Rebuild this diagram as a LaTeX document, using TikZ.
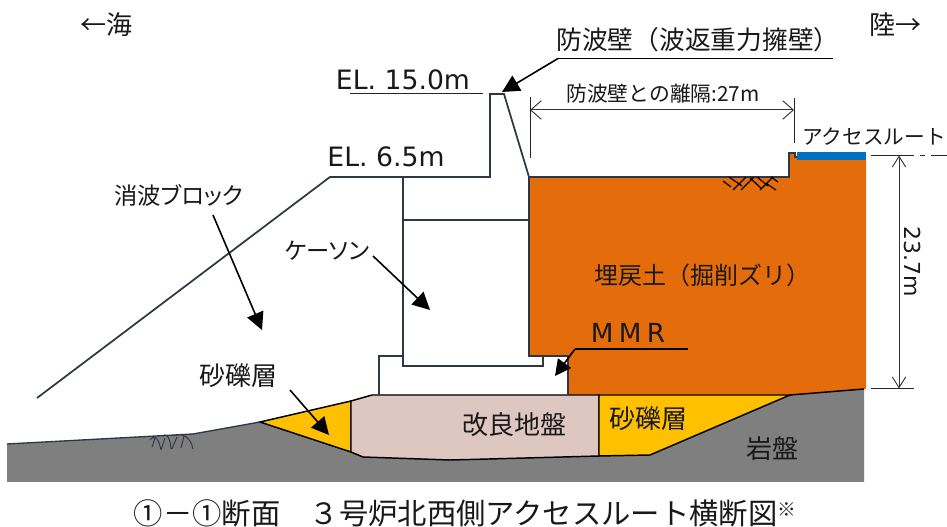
\documentclass[tikz,border=0pt]{standalone}
\usepackage{fontspec}
\usetikzlibrary{arrows.meta}
\setmainfont{DejaVu Sans}
\newfontfamily\jp{Noto Sans CJK JP}
\newfontfamily\jpp[RawFeature=+palt]{Noto Sans CJK JP}
\definecolor{wall}{HTML}{2F3744}
\definecolor{orangefill}{HTML}{E46C0A}
\definecolor{gravel}{HTML}{FFC000}
\definecolor{improved}{HTML}{DFC7C1}
\definecolor{rock}{HTML}{7F7F7F}
\definecolor{road}{HTML}{0070C0}
\tikzset{
  px/.style={x=0.75pt,y=-0.75pt},
  wallline/.style={draw=wall,line width=1.3pt,line join=miter},
  blackline/.style={draw=black,line width=1.1pt},
  thinline/.style={draw=black!85,line width=0.75pt},
  leader/.style={draw=black,line width=1.2pt,-{Triangle[length=13pt,width=13pt]}},
  dimline/.style={draw=black!80,line width=0.75pt,{Straight Barb[length=8pt,width=14pt,line width=0.7pt]}-{Straight Barb[length=8pt,width=14pt,line width=0.7pt]}},
  lab/.style={inner sep=0pt,anchor=center,font=\jpp\fontsize{19.5}{20}\selectfont,text=black!90},
  elab/.style={inner sep=0pt,anchor=center,font=\fontsize{20}{20}\selectfont,text=black!90},
}
\begin{document}
\begin{tikzpicture}[px]
\useasboundingbox (0,0) rectangle (947,527);
\fill[white] (0,0) rectangle (947,527);
% bedrock
\fill[rock] (7,444) -- (193,434) -- (260,422) -- (351,401) -- (372,395) -- (790,395) -- (864,389) -- (864,482) -- (7,482) -- cycle;
% fill
\fill[orangefill] (529,177) -- (789,177) -- (789,153) -- (795,153) -- (795,158) -- (866,158) -- (866,389) -- (790,395) -- (568,395) -- (568,356) -- (529,356) -- cycle;
\fill[road] (797,152) rectangle (866,160);
% gravel and improved ground
\filldraw[fill=gravel,blackline] (260,422) -- (351,401) -- (351,452) -- cycle;
\filldraw[fill=improved,blackline] (351,401) -- (372,395) -- (599,395) -- (599,456) -- (470,459.5) -- (450,460) -- (363,457) -- (351,452) -- cycle;
\filldraw[fill=gravel,blackline] (599,395) -- (790,395) -- (650,455) -- (599,456) -- cycle;
\draw[blackline] (790,395) -- (864,389);
\draw[draw=wall,line width=1pt] (7,444) -- (193,434) -- (260,422);
% wall outline
\draw[wallline] (37,398) -- (330,177) -- (490,177) -- (490,94) -- (504,94) -- (529,177) -- (789,177) -- (789,153) -- (795,153) -- (795,157) -- (797,157);
\draw[wallline] (529,177) -- (529,356) -- (568,356) -- (568,395);
\draw[wallline] (403,177) -- (403,366) -- (543,366) -- (543,356);
\draw[wallline] (403,220) -- (529,220);
\draw[wallline] (403,356) -- (379,356) -- (379,395);
% hatch under the road bench
\draw[black,line width=0.9pt]
  (723,181) -- (731,187) (729,177) -- (742,186) (733,190) -- (746,177)
  (741,190) -- (754,177) (750,178) -- (762,189) (757,177) -- (768,186)
  (760,190) -- (773,177) (767,184) -- (776,190) (771,177) -- (778,182);
% grass mark
\draw[wall,line width=0.7pt]
  (150,440) .. controls (154,435) and (158,436) .. (161,450)
  (155,438) -- (152,447) (162,436) .. controls (166,433) and (170,436) .. (171,449)
  (165,438) -- (161,450) (173,436) .. controls (179,433) and (190,434) .. (193,449)
  (177,437) -- (172,449) (184,436) -- (181,448);
% labels
\node[lab] (sea) at (106,25) {←海};
\node[lab] (land) at (895,25) {陸→};
\node[lab,font=\jp\fontsize{19.3}{20}\selectfont] (wave) at (698,40) {防波壁（波返重力擁壁）};
\node[elab] (el15) at (403,80) {EL. 15.0m};
\node[elab] (el65) at (386,157) {EL. 6.5m};
\node[lab,font=\jp\fontsize{15.6}{16}\selectfont] (gap) at (663,94) {防波壁との離隔:27m};
\node[lab,font=\jp\fontsize{15.5}{16}\selectfont] (access) at (874,137) {アクセスルート};
\node[lab,font=\jpp\fontsize{17.5}{18}\selectfont] (block) at (179,195) {消波ブロック};
\node[lab,font=\jpp\fontsize{17.5}{18}\selectfont] (caisson) at (327,251) {ケーソン};
\node[lab,font=\jp\fontsize{18}{19}\selectfont] (umemodoshi) at (702,275) {埋戻土（掘削ズリ）};
\node[lab,font=\fontsize{19.7}{20}\selectfont] (mmr) at (628,333) {M\hspace{4pt}M\hspace{4pt}R};
\node[lab] (sl) at (238,376) {砂礫層};
\node[lab] (kairyo) at (514,425) {改良地盤};
\node[lab] (sr) at (648,419) {砂礫層};
\node[lab] (gan) at (772,449) {岩盤};
\node[elab,font=\fontsize{16.5}{17}\selectfont,rotate=-90] (h) at (913,262) {23.7m};
\node[lab,font=\jp\fontsize{22}{22}\selectfont] (title) at (465,513) {①－①断面　３号炉北西側アクセスルート横断図\raisebox{6pt}{\fontsize{14}{14}\selectfont ※}};
% leaders
\coordinate (w1) at (833,58.5); \coordinate (w2) at (558,58.5); \coordinate (w3) at (502,92);
\draw[blackline] (w1) -- (w2);
\draw[leader] (w2) -- (w3);
\coordinate (e1) at (350,94); \coordinate (e2) at (483,94);
\draw[thinline] (e1) -- (e2);
\coordinate (m1) at (688,349); \coordinate (m2) at (575,349); \coordinate (m3) at (555,376);
\draw[blackline] (m1) -- (m2);
\draw[leader,-{Triangle[length=12pt,width=12pt]}] (m2) -- (m3);
\coordinate (bs) at (213,215); \coordinate (bt) at (262,330);
\draw[leader] (bs) -- (bt);
\coordinate (cs) at (373,256); \coordinate (ct) at (430,310);
\draw[leader] (cs) -- (ct);
\coordinate (ss) at (290,390); \coordinate (st) at (329,435);
\draw[leader] (ss) -- (st);
% dimensions
\coordinate (d1a) at (530,97); \coordinate (d1b) at (530,158);
\coordinate (d2a) at (794,98); \coordinate (d2b) at (794,143);
\draw[thinline] (d1a) -- (d1b);
\draw[thinline] (d2a) -- (d2b);
\coordinate (a1) at (530,110); \coordinate (a2) at (794,110);
\draw[dimline] (a1) -- (a2);
\coordinate (h1) at (871,155.5); \coordinate (h2) at (914,155.5); \coordinate (h3) at (947,155.5);
\draw[thinline] (h1) -- (h2);
\draw[thinline,dash pattern=on 4pt off 4pt on 12pt off 3pt] (h2) ++(6,0) -- (h3);
\coordinate (l1) at (871,388.5); \coordinate (l2) at (914,388.5);
\draw[thinline] (l1) -- (l2);
\coordinate (v1) at (899,155.5); \coordinate (v2) at (899,388.5);
\draw[dimline,{Straight Barb[length=8pt,width=10pt,line width=0.7pt]}-{Straight Barb[length=8pt,width=10pt,line width=0.7pt]}] (v1) -- (v2);
\end{tikzpicture}
\end{document}
